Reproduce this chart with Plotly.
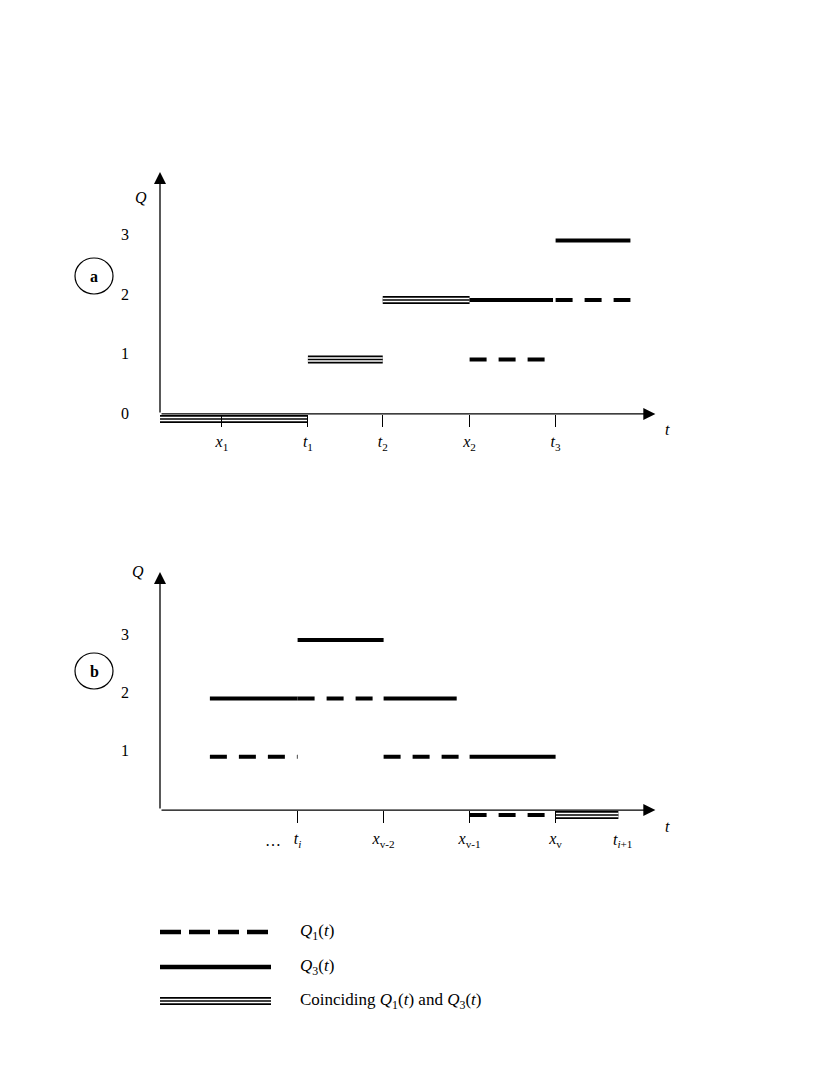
import plotly.graph_objects as go

# ---------------- data ----------------
# panel a: marked instants on the t axis
A_TICK_POS = [0.72, 1.72, 2.59, 3.6, 4.6]
A_TICK_TEXT = ["<i>x</i><sub>1</sub>", "<i>t</i><sub>1</sub>", "<i>t</i><sub>2</sub>",
               "<i>x</i><sub>2</sub>", "<i>t</i><sub>3</sub>"]
A_LEVELS = [0, 1, 2, 3]
# segments: [start, end, Q level]
A_Q1 = [[3.6, 4.6, 1], [4.6, 5.47, 2]]
A_Q3 = [[3.6, 4.57, 2], [4.6, 5.47, 3]]
A_BOTH = [[0, 1.72, 0], [1.72, 2.59, 1], [2.59, 3.6, 2]]

# panel b
B_TICK_POS = [1.6, 2.6, 3.6, 4.6]
B_TICK_TEXT = ["<i>t<sub>i</sub></i>", "<i>x</i><sub>v-2</sub>",
               "<i>x</i><sub>v-1</sub>", "<i>x</i><sub>v</sub>"]
B_NEXT_POS = 5.33
B_NEXT_TEXT = "<i>t</i><sub><i>i</i>+1</sub>"
B_DOTS_POS = 1.31
B_LEVELS = [1, 2, 3]
B_Q1 = [[0.58, 1.6, 1], [1.6, 2.6, 2], [2.6, 3.6, 1], [3.6, 4.6, 0]]
B_Q3 = [[0.58, 1.6, 2], [1.6, 2.6, 3], [2.6, 3.45, 2], [3.6, 4.6, 1]]
B_BOTH = [[4.6, 5.33, 0]]

LEGEND_TEXT = ["<i>Q</i><sub>1</sub>(<i>t</i>)",
               "<i>Q</i><sub>3</sub>(<i>t</i>)",
               "Coinciding <i>Q</i><sub>1</sub>(<i>t</i>) and <i>Q</i><sub>3</sub>(<i>t</i>)"]

# ---------------- layout constants ----------------
PAGE_OFF = 8                   # body margin of the html page
W, H = 817 - PAGE_OFF, 1090 - PAGE_OFF
ORIGIN_X = 160       # page px of t = 0
T_UNIT = 86          # px per t unit
T_RANGE = [-0.5, 6.05]
T_TIP = 5.76
Q_RANGE = [-0.3, 4.3]
AXIS_Q = 0.085       # axis line sits just above the Q = 0 level
FONT = "Liberation Serif"
DASH = "17px,12px"


def px(x):
    return (x - PAGE_OFF) / W


def py(y):
    return 1 - (y - PAGE_OFF) / H


PANELS = [
    dict(name="a", xa="x", ya="y", zero=419, unit=59.5, tip=4.15, standoff=1,
         ticks=A_TICK_POS, ticktext=A_TICK_TEXT, levels=A_LEVELS,
         q1=A_Q1, q3=A_Q3, both=A_BOTH, qlab=(-0.22, 3.72), circle=276),
    dict(name="b", xa="x2", ya="y2", zero=815, unit=58.3, tip=4.17, standoff=2,
         ticks=B_TICK_POS, ticktext=B_TICK_TEXT, levels=B_LEVELS,
         q1=B_Q1, q3=B_Q3, both=B_BOTH, qlab=(-0.26, 4.17), circle=671),
]

fig = go.Figure()


def seg(p, s, style):
    kw = dict(x=[s[0], s[1]], y=[s[2], s[2]], mode="lines", xaxis=p["xa"], yaxis=p["ya"],
              showlegend=False, hoverinfo="skip")
    if style == "q1":
        fig.add_trace(go.Scatter(line=dict(color="black", width=4, dash=DASH), **kw))
    elif style == "q3":
        fig.add_trace(go.Scatter(line=dict(color="black", width=4), **kw))
    else:  # triple line
        fig.add_trace(go.Scatter(line=dict(color="black", width=8), **kw))
        fig.add_trace(go.Scatter(line=dict(color="white", width=4.6), **kw))
        fig.add_trace(go.Scatter(line=dict(color="black", width=1.6), **kw))


annotations = []
shapes = []
layout = {}
xdom = [px(ORIGIN_X + T_RANGE[0] * T_UNIT), px(ORIGIN_X + T_RANGE[1] * T_UNIT)]

for i, p in enumerate(PANELS):
    for s in p["both"]:
        seg(p, s, "both")
    for s in p["q3"]:
        seg(p, s, "q3")
    for s in p["q1"]:
        seg(p, s, "q1")

    top = p["zero"] - Q_RANGE[1] * p["unit"]
    bot = p["zero"] - Q_RANGE[0] * p["unit"]
    sfx = "" if i == 0 else str(i + 1)
    layout["xaxis" + sfx] = dict(
        domain=xdom, range=T_RANGE, anchor="free",
        position=py(p["zero"] - AXIS_Q * p["unit"]),
        tickvals=p["ticks"], ticktext=p["ticktext"], ticks="outside", ticklen=12,
        tickwidth=1.3, tickcolor="black", ticklabelstandoff=p["standoff"],
        showgrid=False, zeroline=False, showline=False, fixedrange=True,
        tickfont=dict(family=FONT, size=16, color="black"))
    layout["yaxis" + sfx] = dict(
        domain=[py(bot), py(top)], range=Q_RANGE, anchor="free", position=px(ORIGIN_X),
        tickvals=p["levels"], ticks="", ticklabelstandoff=31, ticklabelshift=-6,
        showgrid=False, zeroline=False, showline=False, fixedrange=True,
        tickfont=dict(family=FONT, size=16, color="black"))

    # axes with arrow heads
    arrow = dict(xref=p["xa"], yref=p["ya"], axref=p["xa"], ayref=p["ya"],
                 showarrow=True, arrowhead=2, arrowsize=1.85, arrowwidth=1.3,
                 arrowcolor="black", text="", standoff=0)
    annotations.append(dict(x=T_TIP, y=AXIS_Q, ax=0, ay=AXIS_Q, **arrow))
    annotations.append(dict(x=0, y=p["tip"], ax=0, ay=AXIS_Q, **arrow))

    txt = dict(xref=p["xa"], yref=p["ya"], showarrow=False, xanchor="center",
               yanchor="middle", font=dict(family=FONT, size=16, color="black"))
    annotations.append(dict(x=5.9, y=AXIS_Q, yshift=-16, text="<i>t</i>", **txt))
    annotations.append(dict(x=p["qlab"][0], y=p["qlab"][1], text="<i>Q</i>", **txt))

    # panel letter in a circle
    cy = p["circle"]
    shapes.append(dict(type="circle", xref="paper", yref="paper",
                       x0=px(94 - 19), x1=px(94 + 19), y0=py(cy + 18), y1=py(cy - 18),
                       line=dict(color="black", width=1.2)))
    annotations.append(dict(x=px(94), y=py(cy), xref="paper", yref="paper",
                            xanchor="center", yanchor="middle", showarrow=False,
                            text="<b>%s</b>" % p["name"],
                            font=dict(family=FONT, size=16, color="black")))

# extra labels on the t axis of panel b
txtb = dict(xref="x2", yref="y2", showarrow=False, xanchor="center", yanchor="middle",
            font=dict(family=FONT, size=16, color="black"))
annotations.append(dict(x=B_DOTS_POS, y=AXIS_Q, yshift=-30, text="…", **txtb))
annotations.append(dict(x=B_NEXT_POS + 0.05, y=AXIS_Q, yshift=-30, text=B_NEXT_TEXT, **txtb))

# legend drawn by hand
rows = [932, 967, 1001]
for k, (ry, label) in enumerate(zip(rows, LEGEND_TEXT)):
    yy = py(ry)
    base = dict(type="line", xref="paper", yref="paper", x0=px(160), x1=px(271), y0=yy, y1=yy)
    if k == 0:
        shapes.append(dict(line=dict(color="black", width=4.5, dash="21px,8px"), **base))
    elif k == 1:
        shapes.append(dict(line=dict(color="black", width=4.5), **base))
    else:
        shapes.append(dict(line=dict(color="black", width=8), **base))
        shapes.append(dict(line=dict(color="white", width=4.6), **base))
        shapes.append(dict(line=dict(color="black", width=1.6), **base))
    annotations.append(dict(x=px(298), y=yy, xref="paper", yref="paper",
                            xanchor="left", yanchor="middle",
                            showarrow=False, text=label,
                            font=dict(family=FONT, size=17, color="black")))

fig.update_layout(
    width=W, height=H, margin=dict(l=0, r=0, t=0, b=0),
    paper_bgcolor="white", plot_bgcolor="white",
    annotations=annotations, shapes=shapes, showlegend=False, **layout)

fig.write_html("out.html")
